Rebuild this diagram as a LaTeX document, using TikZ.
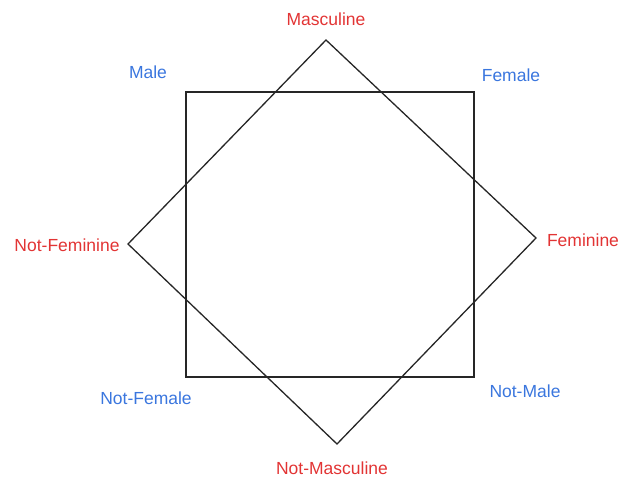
\documentclass[tikz,border=0pt]{standalone}
\usepackage{fontspec}
\setmainfont{Liberation Sans}
\usepackage{xcolor}
\definecolor{gdred}{RGB}{226,52,52}
\definecolor{gdblue}{RGB}{58,118,222}
\tikzset{
    sexlbl/.style={text=gdblue, font=\fontsize{17.5}{20}\selectfont, inner sep=0pt},
    genlbl/.style={text=gdred, font=\fontsize{17.5}{20}\selectfont, inner sep=0pt},
    edge/.style={draw=black!85, line width=1.3pt},
}
\begin{document}
\begin{tikzpicture}[x=1pt, y=-1pt]
    \useasboundingbox (0,0) rectangle (619,481);
    % square: sex
    \coordinate (sq1) at (186,92);
    \coordinate (sq2) at (474,92);
    \coordinate (sq3) at (474,377);
    \coordinate (sq4) at (186,377);
    % diamond: gender
    \coordinate (dm1) at (326,40);
    \coordinate (dm2) at (536,238);
    \coordinate (dm3) at (337,444);
    \coordinate (dm4) at (128,244);
    \draw[edge] (sq1) -- (sq2) -- (sq3) -- (sq4) -- cycle;
    \draw[edge] (dm1) -- (dm2) -- (dm3) -- (dm4) -- cycle;
    % labels
    \node[sexlbl] (male) at (148,72) {Male};
    \node[sexlbl] (female) at (511,75) {Female};
    \node[sexlbl] (notmale) at (525,391) {Not-Male};
    \node[sexlbl] (notfemale) at (146,398) {Not-Female};
    \node[genlbl] (masc) at (326,19) {Masculine};
    \node[genlbl] (fem) at (583,240) {Feminine};
    \node[genlbl] (notmasc) at (332,468) {Not-Masculine};
    \node[genlbl] (notfem) at (67,245) {Not-Feminine};
\end{tikzpicture}
\end{document}
